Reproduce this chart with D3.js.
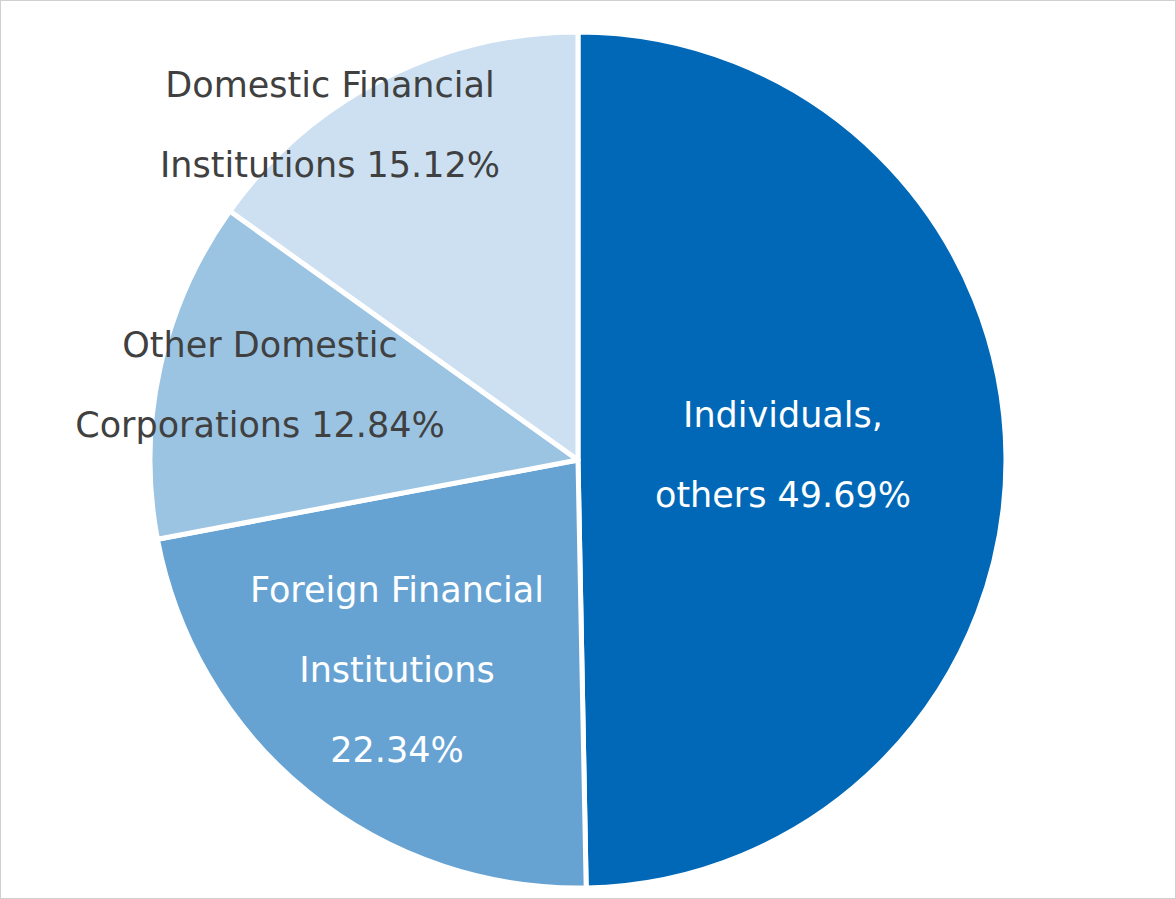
<!DOCTYPE html>
<html><head><meta charset="utf-8">
<script src="https://cdn.jsdelivr.net/npm/d3@7"></script>
<style>body{margin:0;background:#fff}svg{display:block}</style>
</head><body>
<svg id="c" width="1176" height="899"></svg>
<script>
const categories = ["Individuals, others", "Foreign Financial Institutions", "Other Domestic Corporations", "Domestic Financial Institutions"];
const values = [49.69, 22.34, 12.84, 15.12];
const labelLines = [["Individuals,", "others 49.69%"], ["Foreign Financial", "Institutions", "22.34%"], ["Other Domestic", "Corporations 12.84%"], ["Domestic Financial", "Institutions 15.12%"]];
const colors = ["#0068b7", "#66a3d3", "#9bc4e3", "#cce0f2"];
const textColors = ["#ffffff", "#ffffff", "#404040", "#404040"];

const svg = d3.select("#c");
svg.append("rect").attr("x",0.5).attr("y",0.5).attr("width",1175).attr("height",898).attr("fill","#fff").attr("stroke","#d0d0d0");
const cx = 578, cy = 460, R = 428;
const g = svg.append("g").attr("transform",`translate(${cx},${cy})`);
const pie = d3.pie().sort(null).value(d=>d)(values);
const arc = d3.arc().innerRadius(0).outerRadius(R);
g.selectAll("path").data(pie).join("path").attr("d",arc)
  .attr("fill",(d,i)=>colors[i]).attr("stroke","#fff").attr("stroke-width",5).attr("stroke-linejoin","round");
// label anchor (radius fraction) and centres
const labelPos = [[205,-5],[-181,210],[-318,-75],[-248,-335]];
const lh = 80;
labelLines.forEach((lines,i)=>{
  const t = g.append("text").attr("text-anchor","middle").attr("fill",textColors[i])
    .style("font-family","DejaVu Sans, Verdana, sans-serif").style("font-size","35px");
  const y0 = labelPos[i][1] - (lines.length-1)*lh/2;
  lines.forEach((l,j)=>t.append("tspan").attr("x",labelPos[i][0]).attr("y",y0+j*lh).attr("dy","0.35em").text(l));
});
</script>
</body></html>
